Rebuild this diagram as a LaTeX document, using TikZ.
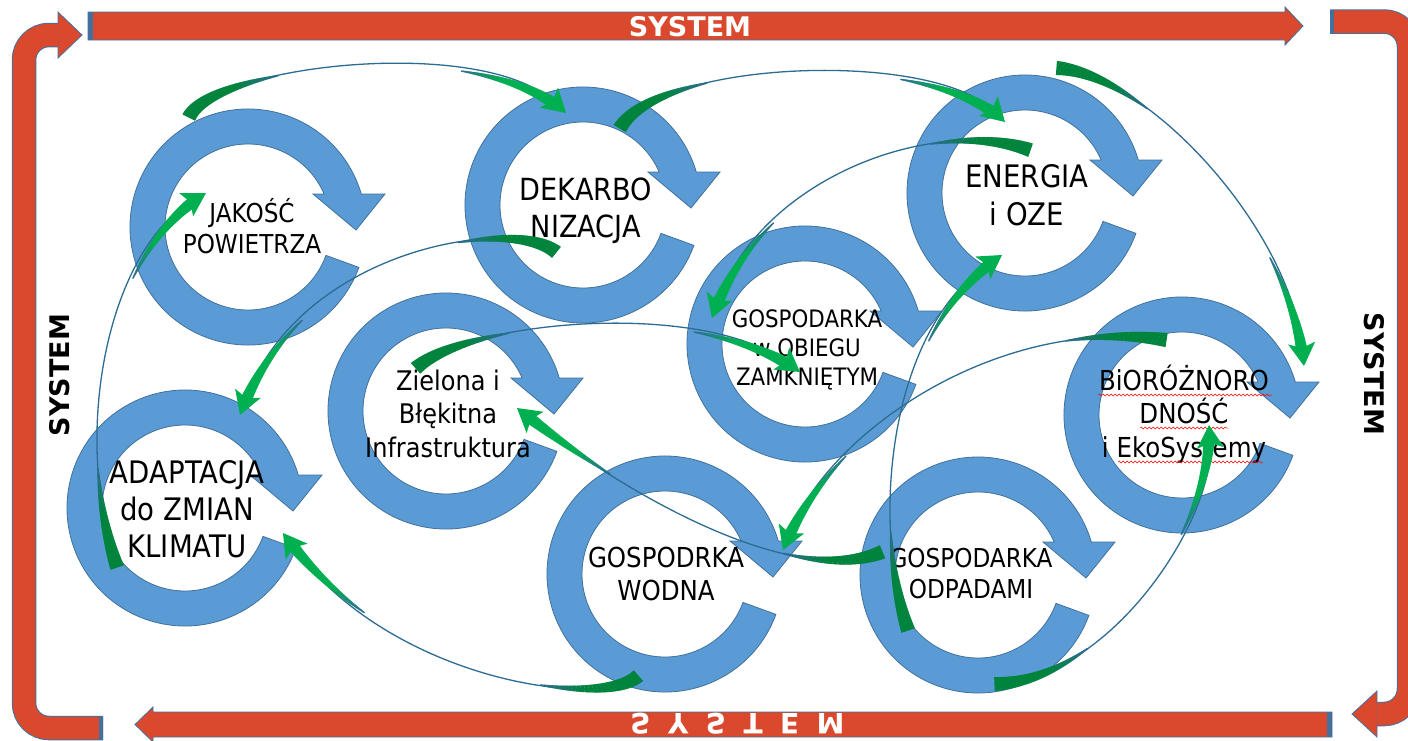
\documentclass[tikz,border=0pt]{standalone}
\usepackage{fontspec}
\setmainfont{DejaVu Sans}
\newfontfamily\lblfont{DejaVu Sans}[FakeStretch=0.89]
\usetikzlibrary{arrows.meta,decorations.markings,decorations.pathmorphing}
\definecolor{sysred}{RGB}{218,73,45}
\definecolor{edgeblue}{RGB}{65,113,156}
\definecolor{ringblue}{RGB}{91,155,213}
\definecolor{grnB}{RGB}{0,176,80}
\definecolor{grnD}{RGB}{0,132,60}
\definecolor{linkc}{RGB}{45,108,146}
\newcommand\lstr{\rule[-0.22em]{0pt}{1.17em}}
\newcommand\lf[2]{\lblfont\fontsize{#1}{#2}\selectfont\lineskiplimit=-100pt\relax}
\newcommand\tailmark{%
 \pgfmathsetmacro\cdd{\pgfkeysvalueof{/pgf/decoration/mark info/distance from start}}%
 \pgfmathsetmacro\cuu{max(0,1-\cdd/100)}%
 \pgfmathsetmacro\chw{0.6+6.4*\cuu}%
 \pgfmathtruncatemacro\cpp{min(100,220*\cuu)}%
 \fill[grnD!\cpp!linkc] (-0.6pt,-\chw pt) rectangle (0.6pt,\chw pt);%
}
\newcommand\headmark{%
 \pgfmathsetmacro\cdd{\pgfdecoratedpathlength-\pgfkeysvalueof{/pgf/decoration/mark info/distance from start}}%
 \pgfmathsetmacro\cuu{max(0,min(1,(115-\cdd)/93))}%
 \pgfmathsetmacro\chw{0.6+4.9*\cuu}%
 \pgfmathtruncatemacro\cpp{min(100,220*\cuu)}%
 \fill[grnB!\cpp!linkc] (-0.6pt,-\chw pt) rectangle (0.6pt,\chw pt);%
}
\tikzset{
 cring/.pic={\filldraw[fill=ringblue,draw=edgeblue,line width=0.8pt]
   (20:83) -- (20:118) arc[start angle=20,end angle=343.8,radius=118]
   -- (137,-33) -- (108,3) -- (65,-33) -- (336.6:83)
   arc[start angle=336.6,end angle=20,radius=83] -- cycle;},
 lbl/.style={inner sep=0pt, anchor=north, align=center, text=black},
 sysw/.style={font=\bfseries\fontsize{27}{32}\selectfont, inner sep=0pt},
 bandedge/.style={draw=edgeblue, line width=24.5pt, rounded corners=25pt},
 bandfill/.style={draw=sysred, line width=22.5pt, rounded corners=25pt},
 sysshape/.style={fill=sysred, draw=edgeblue, line width=0.8pt},
 conn/.style={draw=linkc, line width=1.3pt,
   -{Stealth[length=23pt,width=27pt,inset=5pt,color=grnB,fill=grnB]},
   postaction={decorate,-},
   decoration={markings,
     mark=between positions 0pt and 100pt step 0.8pt with {\tailmark},
     mark=between positions -115pt and -19pt step 0.8pt with {\headmark}}},
 squig/.style={draw=red, line width=0.5pt, decorate, decoration={snake, amplitude=1pt, segment length=4pt}}
}
\begin{document}
\begin{tikzpicture}[x=1pt,y=-1pt]
\useasboundingbox (0,0) rectangle (1408,740);
\fill[white] (0,0) rectangle (1408,740);

% ---------- SYSTEM frame ----------
\filldraw[sysshape] (88,12) -- (1285,12) -- (1285,7) -- (1303,26) -- (1285,45) -- (1285,40) -- (88,40) -- cycle;
\fill[edgeblue] (88,12) rectangle (93,40);
\filldraw[sysshape] (1332,712) -- (153,712) -- (153,707) -- (135,724.5) -- (153,742) -- (153,737) -- (1332,737) -- cycle;
\fill[edgeblue] (1327,712) rectangle (1332,737);
\coordinate (lb1) at (103,728); \coordinate (lb2) at (24,728);
\coordinate (lb3) at (24,35);   \coordinate (lb4) at (58.5,35);
\draw[bandedge] (lb1) -- (lb2) -- (lb3) -- (lb4);
\filldraw[sysshape] (58,12) -- (82,35) -- (58,58) -- cycle;
\draw[bandfill] (lb1) -- (lb2) -- (lb3) -- (lb4);
\fill[edgeblue] (99,716.5) rectangle (103,739.5);
\coordinate (rb1) at (1330,21.5); \coordinate (rb2) at (1409,21.5);
\coordinate (rb3) at (1409,714);  \coordinate (rb4) at (1376.5,714);
\draw[bandedge] (rb1) -- (rb2) -- (rb3) -- (rb4);
\filldraw[sysshape] (1377,691) -- (1352,714) -- (1377,737) -- cycle;
\draw[bandfill] (rb1) -- (rb2) -- (rb3) -- (rb4);
\fill[edgeblue] (1330,10) rectangle (1334,33);

\node[sysw, text=white] (systop) at (690,27) {SYSTEM};
\node[sysw, rotate=90] (sysleft) at (60,375) {SYSTEM};
\node[sysw, rotate=-90] (sysright) at (1374,374) {SYSTEM};
\node[font=\bfseries\fontsize{28}{32}\selectfont, inner sep=0pt, text=white, yscale=-1, anchor=base] (sysbot) at (737.5,713)
  {S\hspace{17.5pt}Y\hspace{17.5pt}S\hspace{17.5pt}T\hspace{17.5pt}E\hspace{17.5pt}M};

% ---------- circular arrows ----------
\pic at (248,227) {cring};
\pic at (583,205) {cring};
\pic at (1025,193) {cring};
\pic at (446,411) {cring};
\pic at (805,344) {cring};
\pic at (185,508) {cring};
\pic at (665,574) {cring};
\pic at (978,575) {cring};
\pic at (1182,415) {cring};

% ---------- labels ----------
\node[lbl, font=\lf{26}{31}] (jak) at (252,197.3) {\lstr JAKOŚĆ\\\lstr POWIETRZA};
\node[lbl, font=\lf{30.5}{37}] (dek) at (586,171) {\lstr DEKARBO\\\lstr NIZACJA};
\node[lbl, font=\lf{31}{38}] (ene) at (1027,157.5) {\lstr ENERGIA\\\lstr i OZE};
\node[lbl, font=\lf{24}{29}] (obi) at (807,304.2) {\lstr GOSPODARKA\\\lstr w OBIEGU\\\lstr ZAMKNIĘTYM};
\node[lbl, font=\lf{27}{33.5}] (ziel) at (448,364.4) {\lstr Zielona i\\\lstr Błękitna\\\lstr Infrastruktura};
\node[lbl, font=\lf{31}{37}] (adap) at (187,453.5) {\lstr ADAPTACJA\\\lstr do ZMIAN\\\lstr KLIMATU};
\node[lbl, font=\lf{27.5}{33}] (wod) at (666,540.9) {\lstr GOSPODRKA\\\lstr WODNA};
\node[lbl, font=\lf{26}{31}] (odp) at (971,542.3) {\lstr GOSPODARKA\\\lstr ODPADAMI};
\node[lbl, font=\lf{27.5}{33.5}] (bio) at (1184,363.9) {\lstr BiORÓŻNORO\\\lstr DNOŚĆ\\\lstr i EkoSystemy};
\draw[squig] (1098,395) -- (1272,395);
\draw[squig] (1140,428) -- (1228,428);
\draw[squig] (1118,462) -- (1263,462);

% ---------- connectors ----------
\coordinate (c1s) at (189,117);  \coordinate (c1e) at (566,113);
\coordinate (c2s) at (620,128);  \coordinate (c2e) at (1005,122);
\coordinate (c3s) at (1057,68);  \coordinate (c3e) at (1304,366);
\coordinate (c4s) at (1030,150); \coordinate (c4e) at (712,318);
\coordinate (c5s) at (556,252);  \coordinate (c5e) at (240,415);
\coordinate (c6s) at (117,567);  \coordinate (c6e) at (206,193);
\coordinate (c7s) at (638,676);  \coordinate (c7e) at (283,533);
\coordinate (c8s) at (416,368);  \coordinate (c8e) at (800,372);
\coordinate (c9s) at (882,552);  \coordinate (c9e) at (517,408);
\coordinate (c10s) at (1166,340); \coordinate (c10e) at (783,550);
\coordinate (c11s) at (908,630); \coordinate (c11e) at (1002,255);
\coordinate (c12s) at (995,684); \coordinate (c12e) at (1209,425);

\draw[conn] (c1s) .. controls (215,65) and (480,35) .. (c1e);
\draw[conn] (c2s) .. controls (660,60) and (930,50) .. (c2e);
\draw[conn] (c3s) .. controls (1150,75) and (1290,230) .. (c3e);
\draw[conn] (c4s) .. controls (930,115) and (760,180) .. (c4e);
\draw[conn] (c5s) .. controls (510,215) and (300,250) .. (c5e);
\draw[conn] (c6s) .. controls (70,430) and (110,250) .. (c6e);
\draw[conn] (c7s) .. controls (600,710) and (390,680) .. (c7e);
\draw[conn] (c8s) .. controls (470,320) and (700,300) .. (c8e);
\draw[conn] (c9s) .. controls (790,590) and (620,490) .. (c9e);
\draw[conn] (c10s) .. controls (1000,315) and (830,430) .. (c10e);
\draw[conn] (c11s) .. controls (870,520) and (890,330) .. (c11e);
\draw[conn] (c12s) .. controls (1110,680) and (1215,520) .. (c12e);
\end{tikzpicture}
\end{document}
